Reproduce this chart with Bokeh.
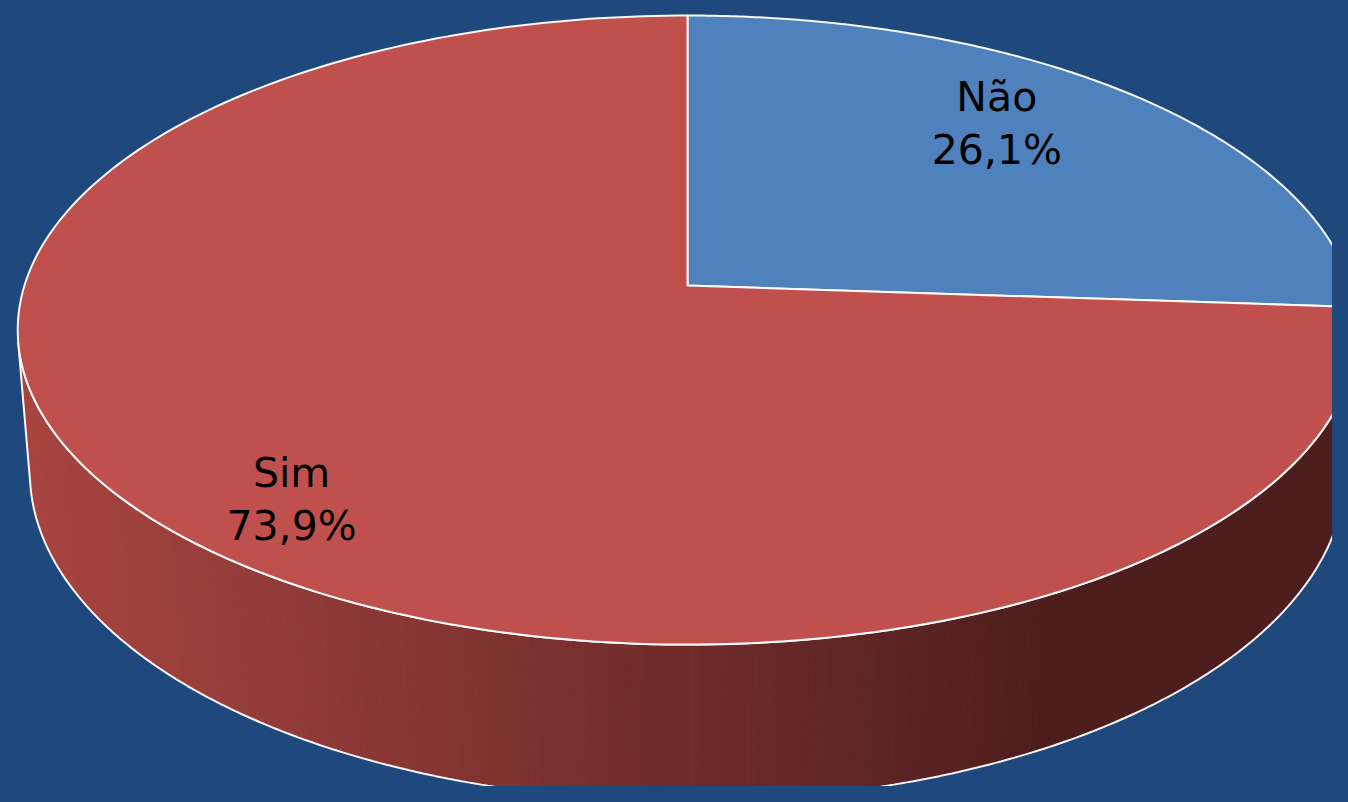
import math
from bokeh.plotting import figure
from bokeh.models import Range1d, ColumnDataSource
from bokeh.core.properties import value
from bokeh.embed import file_html
from bokeh.resources import INLINE

# ---- data ----
categories = ["Não", "Sim"]
shares = [26.1, 73.9]
pct_labels = ["26,1%", "73,9%"]
slice_colors = ["#4F81BD", "#C0504D"]

# ---- layout / projection constants (screen pixels) ----
BG = "#1F497D"
CX, CY = 687.0, 285.0          # projected pie centre
F = 4144.0                     # focal length
D = 6.25                       # camera distance (pie radius = 1)
ELEV = math.radians(27.7)      # camera elevation
H = 0.245                      # pie thickness
SE, CE = math.sin(ELEV), math.cos(ELEV)

LABEL_R = [0.68, 0.757]
LABEL_SHIFT = [-28.0, 42.0]
LINE_GAP = 26.5


def proj(phi_deg, r=1.0, yh=0.0):
    ph = math.radians(phi_deg)
    X = r * math.sin(ph)
    Z = r * math.cos(ph)
    v = Z * SE + yh * CE
    w = Z * CE - yh * SE
    sx = CX + F * X / (D + w)
    sy = CY - F * v / (D + w)
    return sx, -sy


def arc(a0, a1, n, yh=0.0, r=1.0):
    xs, ys = [], []
    for i in range(n + 1):
        a = a0 + (a1 - a0) * i / n
        x, y = proj(a, r, yh)
        xs.append(x)
        ys.append(y)
    return xs, ys


p = figure(width=1332, height=786, output_backend="svg", toolbar_location=None,
           x_range=Range1d(0, 1332), y_range=Range1d(-786, 0),
           x_axis_type=None, y_axis_type=None, min_border=0)
p.background_fill_color = BG
p.border_fill_color = BG
p.outline_line_color = None
p.grid.visible = False

# ---- side wall (only front-facing part is visible) ----
lim = math.degrees(math.acos(-1.0 / (D * CE)))
a_start, a_end = lim, 360.0 - lim
NSTRIP = 300
sx_list, sy_list, cols = [], [], []
c0 = (168, 69, 65)
c1 = (78, 30, 30)
for i in range(NSTRIP):
    a = a_start + (a_end - a_start) * i / NSTRIP
    b = a_start + (a_end - a_start) * (i + 1) / NSTRIP
    x1, y1 = proj(a)
    x2, y2 = proj(b)
    x3, y3 = proj(b, 1.0, -H)
    x4, y4 = proj(a, 1.0, -H)
    sx_list.append([x1, x2, x3, x4])
    sy_list.append([y1, y2, y3, y4])
    xm = (x1 + x2) / 2
    t = min(max((xm - 25.0) / (1050.0 - 25.0), 0.0), 1.0)
    c = tuple(int(round(c0[k] + (c1[k] - c0[k]) * t)) for k in range(3))
    cols.append("#%02x%02x%02x" % c)
p.patches(xs=sx_list, ys=sy_list, fill_color=cols, line_color=cols, line_width=1.2)

# side outline
tx, ty = arc(a_start, a_end, 300)
bx, by = arc(a_end, a_start, 300, yh=-H)
p.patch(tx + bx, ty + by, fill_color=None, line_color="white", line_width=2, line_alpha=0.95)

# ---- top slices ----
total = sum(shares)
start = 0.0
mids = []
for i, s in enumerate(shares):
    span = 360.0 * s / total
    ax, ay = arc(start, start + span, 240)
    x0, y0 = proj(0, 0.0)
    p.patch([x0] + ax, [y0] + ay, fill_color=slice_colors[i], line_color="white",
            line_width=2, line_alpha=0.95, line_join="round")
    mids.append(start + span / 2)
    start += span

# ---- labels ----
lx, ly_name, ly_pct = [], [], []
for i, m in enumerate(mids):
    x, y = proj(m, LABEL_R[i])
    y -= LABEL_SHIFT[i]
    lx.append(x)
    ly_name.append(y + LINE_GAP)
    ly_pct.append(y - LINE_GAP)

src = ColumnDataSource(dict(x=lx, yn=ly_name, yp=ly_pct, name=categories, pct=pct_labels))
p.text(x="x", y="yn", text="name", source=src, text_align="center", text_baseline="alphabetic",
       text_font=value("DejaVu Sans"), text_font_size="41px", text_color="black")
p.text(x="x", y="yp", text="pct", source=src, text_align="center", text_baseline="alphabetic",
       text_font=value("DejaVu Sans"), text_font_size="41px", text_color="black")

html = file_html(p, INLINE)
html = html.replace("</head>", "<style>html,body{background-color:%s;}</style></head>" % BG, 1)
open("out.html", "w").write(html)
